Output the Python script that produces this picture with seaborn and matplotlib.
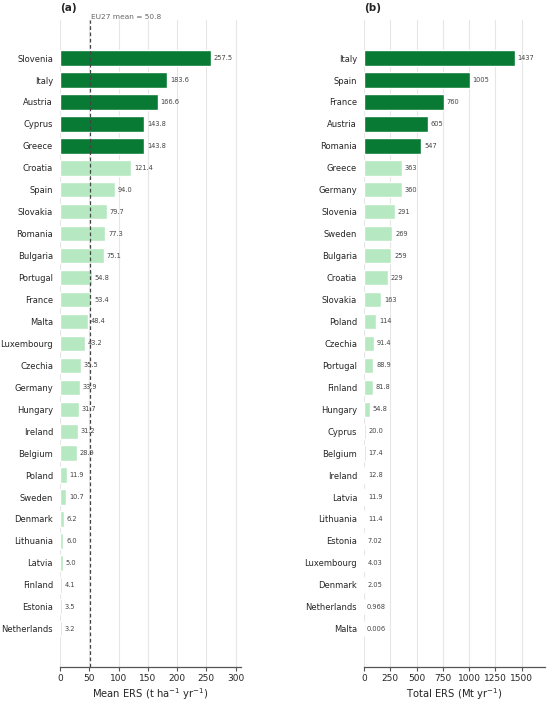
import numpy as np
import pandas as pd
import seaborn as sns
import matplotlib.pyplot as plt

# panel (a): mean ERS per country (t ha-1 yr-1)
mean_countries = ['Slovenia', 'Italy', 'Austria', 'Cyprus', 'Greece', 'Croatia', 'Spain',
                  'Slovakia', 'Romania', 'Bulgaria', 'Portugal', 'France', 'Malta',
                  'Luxembourg', 'Czechia', 'Germany', 'Hungary', 'Ireland', 'Belgium',
                  'Poland', 'Sweden', 'Denmark', 'Lithuania', 'Latvia', 'Finland',
                  'Estonia', 'Netherlands']
mean_ers = [257.5, 183.6, 166.6, 143.8, 143.8, 121.4, 94.0, 79.7, 77.3, 75.1, 54.8, 53.4,
            48.4, 43.2, 35.5, 33.9, 31.7, 31.2, 28.9, 11.9, 10.7, 6.2, 6.0, 5.0, 4.1, 3.5, 3.2]
eu_mean = 50.8

# panel (b): total ERS per country (Mt yr-1)
total_countries = ['Italy', 'Spain', 'France', 'Austria', 'Romania', 'Greece', 'Germany',
                   'Slovenia', 'Sweden', 'Bulgaria', 'Croatia', 'Slovakia', 'Poland',
                   'Czechia', 'Portugal', 'Finland', 'Hungary', 'Cyprus', 'Belgium',
                   'Ireland', 'Latvia', 'Lithuania', 'Estonia', 'Luxembourg', 'Denmark',
                   'Netherlands', 'Malta']
total_ers = [1437, 1005, 760, 605, 547, 363, 360, 291, 269, 259, 229, 163, 114, 91.4, 88.9,
             81.8, 54.8, 20.0, 17.4, 12.8, 11.9, 11.4, 7.02, 4.03, 2.05, 0.968, 0.006]

dark_green = '#087a33'
light_green = '#b6e8c2'

sns.set_style('whitegrid')
plt.rcParams['font.family'] = ['DejaVu Sans']


def fmt_total(v):
    if v >= 100:
        return '%.0f' % v
    if v >= 10:
        return '%.1f' % v
    if v >= 1:
        return '%.2f' % v
    return '%.3f' % v


def draw_panel(ax, countries, values, label_fmt, xticks, xlabel, title):
    df = pd.DataFrame({'country': countries, 'value': values})
    df['top'] = ['top'] * 5 + ['rest'] * (len(df) - 5)
    sns.barplot(data=df, x='value', y='country', hue='top', orient='h',
                palette={'top': dark_green, 'rest': light_green}, legend=False,
                width=0.7, dodge=False, saturation=1, ax=ax)
    n = len(df)
    ax.set_ylim(n - 1 + 1.75, -1.75)
    ax.set_xlim(0, max(values) * 1.2)
    ax.set_xticks(xticks)
    for i, v in enumerate(values):
        ax.annotate(label_fmt(v), (v, i), xytext=(2, 0), textcoords='offset points',
                    va='center', ha='left', fontsize=4.8, color='#444444')
    ax.set_ylabel('')
    ax.set_xlabel(xlabel, fontsize=7.2, labelpad=2)
    ax.grid(axis='y', visible=False)
    ax.grid(axis='x', color='#e6e6e6', linewidth=0.8)
    for s in ['top', 'right', 'left']:
        ax.spines[s].set_visible(False)
    ax.spines['bottom'].set_color('#555555')
    ax.spines['bottom'].set_linewidth(0.9)
    ax.tick_params(axis='x', bottom=True, length=3, color='#555555', labelsize=6.5, pad=2)
    ax.tick_params(axis='y', left=False, labelsize=6.0, pad=1.5)
    ax.set_title(title, loc='left', fontweight='bold', fontsize=7.5, pad=6, x=0.0)


fig = plt.figure(figsize=(5.5, 7.03), dpi=100)
ax1 = fig.add_axes([0.109, 0.051, 0.329, 0.921])
ax2 = fig.add_axes([0.662, 0.051, 0.329, 0.921])

draw_panel(ax1, mean_countries, mean_ers, lambda v: '%.1f' % v,
           [0, 50, 100, 150, 200, 250, 300], r'Mean ERS (t ha$^{-1}$ yr$^{-1}$)', '(a)')
ax1.axvline(eu_mean, color='#444444', linestyle=(0, (3, 2)), linewidth=0.9, zorder=5)
ax1.text(eu_mean + 3, -1.75, 'EU27 mean = %.1f' % eu_mean, fontsize=5.3, color='#666666',
         ha='left', va='bottom')

draw_panel(ax2, total_countries, total_ers, fmt_total,
           [0, 250, 500, 750, 1000, 1250, 1500], r'Total ERS (Mt yr$^{-1}$)', '(b)')

fig.savefig('out.png', dpi=100)
